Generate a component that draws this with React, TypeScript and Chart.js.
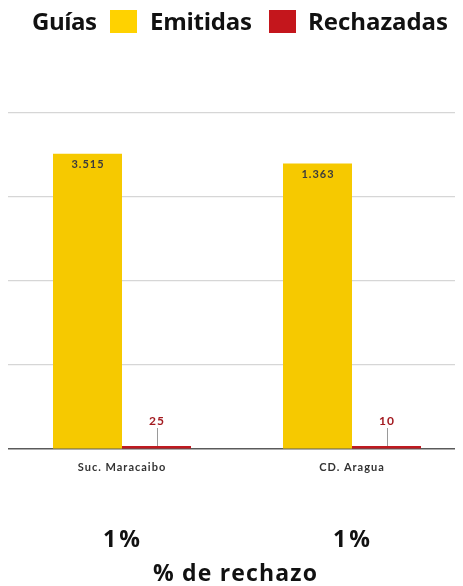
import React, { useEffect, useRef } from "react";
import { Chart, registerables } from "chart.js";

Chart.register(...registerables);

const categories = ["Suc. Maracaibo", "CD. Aragua"];
// Bar heights as drawn in the reference (axis 0–4000, gridlines every 1000)
const emitidasBars = [3515, 3400];
const emitidasLabels = ["3.515", "1.363"];
const rechazadas = [25, 10];
const rechazadasLabels = ["25", "10"];
const rechazoPct = ["1%", "1%"];
const legendTitle = "Guías";
const seriesNames = ["Emitidas", "Rechazadas"];
const footerTitle = "% de rechazo";

const YELLOW = "#F6C900";
const RED = "#BF1A20";
const FONT = "Lato, 'Open Sans', sans-serif";
const BIG = "'Open Sans', Lato, sans-serif";

// draw text starting at x0 and spreading to width w via letter spacing
function fitText(ctx: any, text: string, x0: number, w: number, y: number) {
  ctx.letterSpacing = "0px";
  const m = ctx.measureText(text).width;
  const n = Math.max(1, text.length - 1);
  const sp = (w - m) / n;
  ctx.letterSpacing = `${sp}px`;
  ctx.textAlign = "left";
  ctx.fillText(text, x0, y);
  ctx.letterSpacing = "0px";
}

const overlayPlugin = {
  id: "overlay",
  beforeDraw(chart: any) {
    chart.ctx.letterSpacing = "1px";
  },
  afterDatasetsDraw(chart: any) {
    const ctx = chart.ctx;
    ctx.save();
    ctx.letterSpacing = "1px";
    const m0 = chart.getDatasetMeta(0);
    m0.data.forEach((bar: any, i: number) => {
      ctx.font = `bold 11px ${FONT}`;
      ctx.fillStyle = "#3c3c3c";
      ctx.textAlign = "center";
      ctx.textBaseline = "middle";
      ctx.fillText(emitidasLabels[i], bar.x + 0.5, bar.y + 11);
    });
    const m1 = chart.getDatasetMeta(1);
    m1.data.forEach((bar: any, i: number) => {
      ctx.strokeStyle = "#9a9a9a";
      ctx.lineWidth = 1;
      ctx.beginPath();
      ctx.moveTo(Math.round(bar.x) + 0.5, bar.y);
      ctx.lineTo(Math.round(bar.x) + 0.5, bar.y - 18);
      ctx.stroke();
      ctx.font = `bold 12px ${FONT}`;
      ctx.fillStyle = "#A31A20";
      ctx.textAlign = "center";
      ctx.textBaseline = "middle";
      ctx.fillText(rechazadasLabels[i], bar.x + 0.5, bar.y - 25);
    });
    ctx.restore();
  },
  afterDraw(chart: any) {
    const ctx = chart.ctx;
    const xs = chart.scales.x;
    ctx.save();
    ctx.textBaseline = "alphabetic";
    // legend
    ctx.font = `bold 24px ${BIG}`;
    ctx.fillStyle = "#111";
    fitText(ctx, legendTitle, 32, 65, 30);
    ctx.fillStyle = "#FFD200";
    ctx.fillRect(110, 10, 27, 23);
    ctx.fillStyle = "#111";
    fitText(ctx, seriesNames[0], 150, 102, 30);
    ctx.fillStyle = "#C4161C";
    ctx.fillRect(269, 10, 27, 23);
    ctx.fillStyle = "#111";
    fitText(ctx, seriesNames[1], 308, 140, 30);
    // percentages
    ctx.font = `bold 23px ${BIG}`;
    rechazoPct.forEach((t, i) => {
      const cx = xs.getPixelForValue(i) - 0.5;
      fitText(ctx, t, cx - 18.5, 37, 547);
    });
    fitText(ctx, footerTitle, 153, 164, 581);
    ctx.restore();
    ctx.letterSpacing = "0px";
  },
};

export default function App() {
  const ref = useRef<HTMLCanvasElement>(null);
  useEffect(() => {
    if (!ref.current) return;
    const chart = new Chart(ref.current, {
      type: "bar",
      data: {
        labels: categories,
        datasets: [
          {
            label: seriesNames[0],
            data: emitidasBars,
            backgroundColor: YELLOW,
            categoryPercentage: 0.6,
            barPercentage: 1,
          },
          {
            label: seriesNames[1],
            data: rechazadas,
            backgroundColor: RED,
            categoryPercentage: 0.6,
            barPercentage: 1,
            minBarLength: 3,
          },
        ],
      },
      options: {
        responsive: false,
        animation: false,
        layout: { padding: { left: 7, right: 0, top: 113, bottom: 0 } },
        plugins: {
          legend: { display: false },
          tooltip: { enabled: false },
          title: { display: false },
        },
        scales: {
          x: {
            grid: { display: false },
            border: { display: true, color: "#5a5a5a", width: 1.5 },
            ticks: {
              color: "#333",
              font: { family: FONT, size: 11, weight: "bold" },
              padding: 4,
            },
            afterFit: (s: any) => {
              s.height = 137;
            },
          },
          y: {
            min: 0,
            max: 4000,
            ticks: { display: false, stepSize: 1000 },
            border: { display: false },
            grid: {
              color: (c: any) => (c.tick && c.tick.value === 0 ? "rgba(0,0,0,0)" : "#d6d6d6"),
              lineWidth: 1.2,
              drawTicks: false,
            },
            afterFit: (s: any) => {
              s.width = 0;
            },
          },
        },
      },
      plugins: [overlayPlugin],
    });
    return () => chart.destroy();
  }, []);
  return (
    <div style={{ width: 467, height: 586, margin: "-8px 0 0 -8px", overflow: "visible" }}>
      <canvas ref={ref} width={467} height={586} style={{ display: "block" }} />
    </div>
  );
}
